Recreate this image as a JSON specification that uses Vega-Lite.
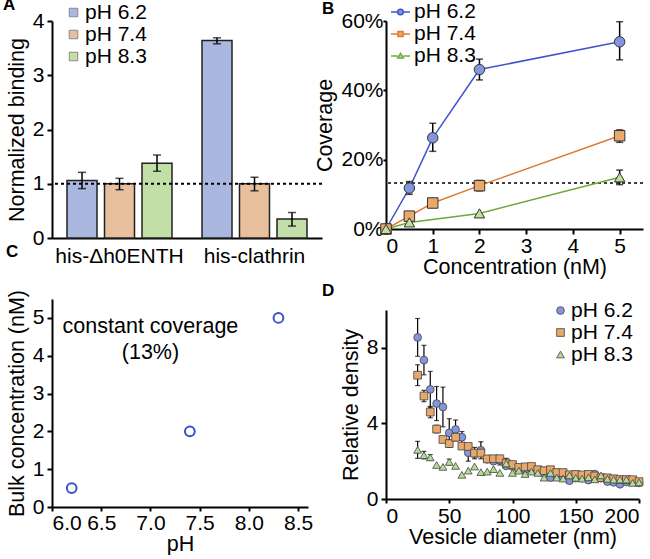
{
  "$schema": "https://vega.github.io/schema/vega-lite/v6.json",
  "padding": {"left": 3, "top": -4, "right": 0, "bottom": 0},
  "config": {
    "font": "Liberation Sans",
    "view": {"stroke": null},
    "axis": {"labelFontSize": 21, "titleFontSize": 21.5, "labelColor": "#000", "titleColor": "#000", "domainColor": "#000", "domainWidth": 2, "tickColor": "#000", "tickWidth": 2, "tickSize": 5, "grid": false, "titleFontWeight": "normal", "labelPadding": 3, "titlePadding": 4},
    "legend": {"labelFontSize": 21, "labelColor": "#000", "rowPadding": 0, "padding": 0, "labelOffset": 3},
    "title": {"fontSize": 17, "fontWeight": "bold", "anchor": "start", "frame": "group", "color": "#000", "baseline": "alphabetic"}
  },
  "resolve": {"scale": {"fill": "independent", "stroke": "independent", "shape": "independent"}, "legend": {"fill": "independent", "stroke": "independent", "shape": "independent"}},
  "hconcat": [
    {
      "resolve": {"scale": {"fill": "independent", "stroke": "independent", "shape": "independent"}, "legend": {"fill": "independent", "stroke": "independent", "shape": "independent"}},
      "vconcat": [
        {
          "width": 270, "height": 217,
          "title": {"text": "A", "dx": -49, "offset": -12},
          "data": {"values": [
            {"protein": "his-Δh0ENTH", "pH": "pH 6.2", "value": 1.06, "lo": 0.91, "hi": 1.21},
            {"protein": "his-Δh0ENTH", "pH": "pH 7.4", "value": 1.0, "lo": 0.89, "hi": 1.10},
            {"protein": "his-Δh0ENTH", "pH": "pH 8.3", "value": 1.38, "lo": 1.23, "hi": 1.53},
            {"protein": "his-clathrin", "pH": "pH 6.2", "value": 3.64, "lo": 3.58, "hi": 3.69},
            {"protein": "his-clathrin", "pH": "pH 7.4", "value": 1.0, "lo": 0.87, "hi": 1.12},
            {"protein": "his-clathrin", "pH": "pH 8.3", "value": 0.35, "lo": 0.22, "hi": 0.47}
          ]},
          "encoding": {
            "x": {"field": "protein", "type": "nominal", "sort": ["his-Δh0ENTH", "his-clathrin"], "scale": {"paddingInner": 0, "paddingOuter": 0},
                  "axis": {"title": null, "ticks": false, "labelAngle": 0, "labelPadding": 7}},
            "xOffset": {"field": "pH", "type": "nominal", "scale": {"paddingInner": 0.2, "paddingOuter": 0.4}}
          },
          "layer": [
            {"mark": {"type": "bar", "stroke": "#222", "strokeWidth": 1.5},
             "encoding": {
               "y": {"field": "value", "type": "quantitative", "scale": {"domain": [0, 4]}, "axis": {"title": "Normalized binding", "values": [0, 1, 2, 3, 4], "format": "d"}},
               "fill": {"field": "pH", "type": "nominal", "scale": {"range": ["#aab8e0", "#e8c09e", "#c3dfa8"]},
                        "legend": {"title": null, "orient": "none", "legendX": 11, "legendY": -19, "symbolType": "square", "symbolSize": 72, "symbolStrokeColor": "#888", "symbolStrokeWidth": 1, "labelOffset": 1}}
             }},
            {"mark": {"type": "rule", "color": "#000", "strokeWidth": 1.5},
             "encoding": {"y": {"field": "lo", "type": "quantitative"}, "y2": {"field": "hi"}}},
            {"mark": {"type": "tick", "orient": "horizontal", "color": "#000", "size": 8, "thickness": 1.5},
             "encoding": {"y": {"field": "lo", "type": "quantitative"}}},
            {"mark": {"type": "tick", "orient": "horizontal", "color": "#000", "size": 8, "thickness": 1.5},
             "encoding": {"y": {"field": "hi", "type": "quantitative"}}},
            {"data": {"values": [{"ref": 1}]},
             "mark": {"type": "rule", "color": "#000", "strokeWidth": 2, "strokeDash": [3, 3]},
             "encoding": {"x": null, "xOffset": null, "y": {"field": "ref", "type": "quantitative"}}}
          ]
        },
        {
          "width": 256, "height": 208,
          "title": {"text": "C", "dx": -46, "offset": 28},
          "layer": [
            {"data": {"values": [
              {"pH": 6.2, "conc": 0.5},
              {"pH": 7.4, "conc": 2.0},
              {"pH": 8.3, "conc": 5.0}
            ]},
             "mark": {"type": "point", "filled": false, "stroke": "#3a4fc8", "strokeWidth": 2, "size": 95, "opacity": 1},
             "encoding": {
               "x": {"field": "pH", "type": "quantitative", "scale": {"domain": [6.0, 8.5]}, "axis": {"title": "pH", "values": [6.0, 6.5, 7.0, 7.5, 8.0, 8.5], "format": ".1f", "tickSize": 4, "labelPadding": 1, "titlePadding": 0}},
               "y": {"field": "conc", "type": "quantitative", "scale": {"domain": [0, 5.25]}, "axis": {"title": "Bulk concentration (nM)", "values": [0, 1, 2, 3, 4, 5], "format": "d"}}
             }},
            {"data": {"values": [
              {"x": 7.0, "y": 4.76, "t": "constant coverage"},
              {"x": 7.0, "y": 4.08, "t": "(13%)"}
            ]},
             "mark": {"type": "text", "fontSize": 21.5, "color": "#000", "baseline": "middle", "align": "center"},
             "encoding": {
               "x": {"field": "x", "type": "quantitative"},
               "y": {"field": "y", "type": "quantitative"},
               "text": {"field": "t"}
             }}
          ]
        }
      ],
      "spacing": 61,
      "bounds": "flush"
    },
    {
      "resolve": {"scale": {"fill": "independent", "stroke": "independent", "shape": "independent"}, "legend": {"fill": "independent", "stroke": "independent", "shape": "independent"}},
      "vconcat": [
        {
          "width": 257, "height": 208,
          "title": {"text": "B", "dx": -64, "offset": -16.5},
          "data": {"values": [
            {"pH": "pH 6.2", "conc": 0, "cov": 0},
            {"pH": "pH 6.2", "conc": 0.5, "cov": 0.118, "lo": 0.100, "hi": 0.137},
            {"pH": "pH 6.2", "conc": 1, "cov": 0.263, "lo": 0.224, "hi": 0.305},
            {"pH": "pH 6.2", "conc": 2, "cov": 0.46, "lo": 0.43, "hi": 0.49},
            {"pH": "pH 6.2", "conc": 5, "cov": 0.54, "lo": 0.488, "hi": 0.598},
            {"pH": "pH 7.4", "conc": 0, "cov": 0},
            {"pH": "pH 7.4", "conc": 0.5, "cov": 0.037},
            {"pH": "pH 7.4", "conc": 1, "cov": 0.075},
            {"pH": "pH 7.4", "conc": 2, "cov": 0.125, "lo": 0.11, "hi": 0.14},
            {"pH": "pH 7.4", "conc": 5, "cov": 0.269, "lo": 0.25, "hi": 0.286},
            {"pH": "pH 8.3", "conc": 0, "cov": 0},
            {"pH": "pH 8.3", "conc": 0.5, "cov": 0.019},
            {"pH": "pH 8.3", "conc": 2, "cov": 0.045},
            {"pH": "pH 8.3", "conc": 5, "cov": 0.149, "lo": 0.128, "hi": 0.17}
          ]},
          "encoding": {
            "x": {"field": "conc", "type": "quantitative", "scale": {"domain": [0, 5.5]}, "axis": {"title": "Concentration (nM)", "values": [0, 1, 2, 3, 4, 5], "labelPadding": 1, "titlePadding": 0}}
          },
          "layer": [
            {"data": {"values": [{"ref": 0.133}]},
             "mark": {"type": "rule", "color": "#000", "strokeWidth": 1.5, "strokeDash": [3, 3]},
             "encoding": {"x": null, "y": {"field": "ref", "type": "quantitative"}}},
            {"mark": {"type": "line", "strokeWidth": 1.5},
             "encoding": {
               "y": {"field": "cov", "type": "quantitative", "scale": {"domain": [0, 0.6]}, "axis": {"title": "Coverage", "values": [0, 0.1, 0.2, 0.3, 0.4, 0.5, 0.6], "format": ".0%", "tickSize": 3, "labelPadding": 0}},
               "stroke": {"field": "pH", "type": "nominal", "scale": {"range": ["#4055cc", "#e07a30", "#6aaa3a"]},
                          "legend": {"title": null, "orient": "none", "legendX": 4, "legendY": -19.5, "symbolSize": 361, "symbolStrokeWidth": 1.5,
                                     "encode": {"symbols": {"update": {
                                       "shape": {"signal": "datum.value === 'pH 6.2' ? 'M-1,0L-0.3,0M0.3,0L1,0M0.3,0A0.3,0.3,0,1,1,-0.3,0A0.3,0.3,0,1,1,0.3,0Z' : datum.value === 'pH 7.4' ? 'M-1,0L-0.28,0M0.28,0L1,0M-0.27,-0.27L0.27,-0.27L0.27,0.27L-0.27,0.27Z' : 'M-1,0L-0.3,0M0.3,0L1,0M0,-0.28L0.3,0.22L-0.3,0.22Z'"},
                                       "fill": {"signal": "datum.value === 'pH 6.2' ? '#8395dd' : datum.value === 'pH 7.4' ? '#eaa86a' : '#bde09a'"},
                                       "fillOpacity": {"value": 1}}}}}}
             }},
            {"mark": {"type": "rule", "color": "#000", "strokeWidth": 1.5},
             "encoding": {"y": {"field": "lo", "type": "quantitative"}, "y2": {"field": "hi"}}},
            {"mark": {"type": "tick", "orient": "horizontal", "color": "#000", "size": 7, "thickness": 1.5},
             "encoding": {"y": {"field": "lo", "type": "quantitative"}}},
            {"mark": {"type": "tick", "orient": "horizontal", "color": "#000", "size": 7, "thickness": 1.5},
             "encoding": {"y": {"field": "hi", "type": "quantitative"}}},
            {"mark": {"type": "point", "filled": true, "opacity": 1, "stroke": "#333", "strokeWidth": 1, "size": 110},
             "encoding": {
               "y": {"field": "cov", "type": "quantitative"},
               "fill": {"field": "pH", "type": "nominal", "scale": {"range": ["#8395dd", "#eaa86a", "#bde09a"]}, "legend": null},
               "shape": {"field": "pH", "type": "nominal", "scale": {"range": ["circle", "square", "triangle-up"]}, "legend": null}
             }}
          ]
        },
        {
          "width": 253, "height": 189,
          "title": {"text": "D", "dx": -64, "offset": 0.5},
          "data": {"values": [
            {"pH": "pH 6.2", "d": 25, "v": 8.55, "lo": 7.55, "hi": 9.55},
            {"pH": "pH 6.2", "d": 30, "v": 7.35, "lo": 6.57, "hi": 8.13},
            {"pH": "pH 6.2", "d": 35, "v": 5.8, "lo": 4.85, "hi": 6.75},
            {"pH": "pH 6.2", "d": 40, "v": 5.05, "lo": 4.15, "hi": 5.95},
            {"pH": "pH 6.2", "d": 45, "v": 4.87, "lo": 3.82, "hi": 5.92},
            {"pH": "pH 6.2", "d": 50, "v": 3.5, "lo": 2.75, "hi": 4.25},
            {"pH": "pH 6.2", "d": 55, "v": 3.68, "lo": 3.18, "hi": 4.18},
            {"pH": "pH 6.2", "d": 60, "v": 3.27, "lo": 2.97, "hi": 3.57},
            {"pH": "pH 6.2", "d": 65, "v": 2.45, "lo": 2.0, "hi": 2.9},
            {"pH": "pH 6.2", "d": 70, "v": 2.4},
            {"pH": "pH 6.2", "d": 75, "v": 2.58, "lo": 2.13, "hi": 3.03},
            {"pH": "pH 6.2", "d": 80, "v": 2.1},
            {"pH": "pH 6.2", "d": 85, "v": 2.0},
            {"pH": "pH 6.2", "d": 90, "v": 2.05, "lo": 1.8, "hi": 2.3},
            {"pH": "pH 6.2", "d": 95, "v": 1.75},
            {"pH": "pH 6.2", "d": 100, "v": 1.72},
            {"pH": "pH 6.2", "d": 105, "v": 1.55},
            {"pH": "pH 6.2", "d": 110, "v": 1.55},
            {"pH": "pH 6.2", "d": 115, "v": 1.62, "lo": 1.47, "hi": 1.77},
            {"pH": "pH 6.2", "d": 120, "v": 1.45},
            {"pH": "pH 6.2", "d": 125, "v": 1.35},
            {"pH": "pH 6.2", "d": 130, "v": 1.13},
            {"pH": "pH 6.2", "d": 135, "v": 1.2},
            {"pH": "pH 6.2", "d": 140, "v": 1.15},
            {"pH": "pH 6.2", "d": 145, "v": 0.97},
            {"pH": "pH 6.2", "d": 150, "v": 1.1},
            {"pH": "pH 6.2", "d": 155, "v": 1.1},
            {"pH": "pH 6.2", "d": 160, "v": 1.0},
            {"pH": "pH 6.2", "d": 165, "v": 1.32},
            {"pH": "pH 6.2", "d": 170, "v": 1.1},
            {"pH": "pH 6.2", "d": 175, "v": 0.92},
            {"pH": "pH 6.2", "d": 180, "v": 0.88},
            {"pH": "pH 6.2", "d": 185, "v": 0.78},
            {"pH": "pH 6.2", "d": 190, "v": 0.9},
            {"pH": "pH 6.2", "d": 195, "v": 0.92},
            {"pH": "pH 6.2", "d": 200, "v": 0.85},
            {"pH": "pH 7.4", "d": 25, "v": 6.55, "lo": 6.0, "hi": 7.1},
            {"pH": "pH 7.4", "d": 30, "v": 5.45, "lo": 5.15, "hi": 5.75},
            {"pH": "pH 7.4", "d": 35, "v": 4.6, "lo": 4.3, "hi": 4.9},
            {"pH": "pH 7.4", "d": 40, "v": 3.7, "lo": 3.5, "hi": 3.9},
            {"pH": "pH 7.4", "d": 45, "v": 3.15},
            {"pH": "pH 7.4", "d": 50, "v": 2.93, "lo": 2.73, "hi": 3.13},
            {"pH": "pH 7.4", "d": 55, "v": 3.27, "lo": 3.07, "hi": 3.47},
            {"pH": "pH 7.4", "d": 60, "v": 2.8},
            {"pH": "pH 7.4", "d": 65, "v": 2.78},
            {"pH": "pH 7.4", "d": 70, "v": 2.43, "lo": 2.13, "hi": 2.73},
            {"pH": "pH 7.4", "d": 75, "v": 2.43},
            {"pH": "pH 7.4", "d": 80, "v": 2.12},
            {"pH": "pH 7.4", "d": 85, "v": 2.13},
            {"pH": "pH 7.4", "d": 90, "v": 2.13},
            {"pH": "pH 7.4", "d": 95, "v": 1.9, "lo": 1.65, "hi": 2.15},
            {"pH": "pH 7.4", "d": 100, "v": 1.82},
            {"pH": "pH 7.4", "d": 105, "v": 1.67},
            {"pH": "pH 7.4", "d": 110, "v": 1.7},
            {"pH": "pH 7.4", "d": 115, "v": 1.72},
            {"pH": "pH 7.4", "d": 120, "v": 1.55},
            {"pH": "pH 7.4", "d": 125, "v": 1.5},
            {"pH": "pH 7.4", "d": 130, "v": 1.55},
            {"pH": "pH 7.4", "d": 135, "v": 1.4},
            {"pH": "pH 7.4", "d": 140, "v": 1.4},
            {"pH": "pH 7.4", "d": 145, "v": 1.28},
            {"pH": "pH 7.4", "d": 150, "v": 1.3},
            {"pH": "pH 7.4", "d": 155, "v": 1.27},
            {"pH": "pH 7.4", "d": 160, "v": 1.3},
            {"pH": "pH 7.4", "d": 165, "v": 1.22},
            {"pH": "pH 7.4", "d": 170, "v": 1.13},
            {"pH": "pH 7.4", "d": 175, "v": 1.12},
            {"pH": "pH 7.4", "d": 180, "v": 1.07},
            {"pH": "pH 7.4", "d": 185, "v": 1.03},
            {"pH": "pH 7.4", "d": 190, "v": 1.03},
            {"pH": "pH 7.4", "d": 195, "v": 1.02},
            {"pH": "pH 7.4", "d": 200, "v": 0.92},
            {"pH": "pH 8.3", "d": 25, "v": 2.6, "lo": 2.15, "hi": 3.05},
            {"pH": "pH 8.3", "d": 30, "v": 2.32, "lo": 2.12, "hi": 2.52},
            {"pH": "pH 8.3", "d": 35, "v": 2.2, "lo": 2.05, "hi": 2.35},
            {"pH": "pH 8.3", "d": 40, "v": 1.8},
            {"pH": "pH 8.3", "d": 45, "v": 1.7},
            {"pH": "pH 8.3", "d": 50, "v": 1.96, "lo": 1.81, "hi": 2.11},
            {"pH": "pH 8.3", "d": 55, "v": 1.75},
            {"pH": "pH 8.3", "d": 60, "v": 1.28},
            {"pH": "pH 8.3", "d": 65, "v": 1.5},
            {"pH": "pH 8.3", "d": 70, "v": 1.72},
            {"pH": "pH 8.3", "d": 75, "v": 1.42},
            {"pH": "pH 8.3", "d": 80, "v": 1.45},
            {"pH": "pH 8.3", "d": 85, "v": 1.58},
            {"pH": "pH 8.3", "d": 90, "v": 1.38},
            {"pH": "pH 8.3", "d": 95, "v": 1.88},
            {"pH": "pH 8.3", "d": 100, "v": 1.38},
            {"pH": "pH 8.3", "d": 105, "v": 1.5},
            {"pH": "pH 8.3", "d": 110, "v": 1.32},
            {"pH": "pH 8.3", "d": 115, "v": 1.45},
            {"pH": "pH 8.3", "d": 120, "v": 1.38},
            {"pH": "pH 8.3", "d": 125, "v": 1.13},
            {"pH": "pH 8.3", "d": 130, "v": 1.38},
            {"pH": "pH 8.3", "d": 135, "v": 1.13},
            {"pH": "pH 8.3", "d": 140, "v": 1.08},
            {"pH": "pH 8.3", "d": 145, "v": 1.25},
            {"pH": "pH 8.3", "d": 150, "v": 1.12},
            {"pH": "pH 8.3", "d": 155, "v": 1.08},
            {"pH": "pH 8.3", "d": 160, "v": 1.15},
            {"pH": "pH 8.3", "d": 165, "v": 1.04},
            {"pH": "pH 8.3", "d": 170, "v": 1.25},
            {"pH": "pH 8.3", "d": 175, "v": 1.07},
            {"pH": "pH 8.3", "d": 180, "v": 1.03},
            {"pH": "pH 8.3", "d": 185, "v": 1.03},
            {"pH": "pH 8.3", "d": 190, "v": 1.03},
            {"pH": "pH 8.3", "d": 195, "v": 0.85},
            {"pH": "pH 8.3", "d": 200, "v": 0.88}
          ]},
          "encoding": {
            "x": {"field": "d", "type": "quantitative", "scale": {"domain": [0, 200]}, "axis": {"title": "Vesicle diameter (nm)", "values": [0, 50, 100, 150, 200], "tickSize": 4, "labelPadding": 2, "titlePadding": 0}}
          },
          "layer": [
            {"mark": {"type": "rule", "color": "#000", "strokeWidth": 1.2},
             "encoding": {"y": {"field": "lo", "type": "quantitative"}, "y2": {"field": "hi"}}},
            {"mark": {"type": "tick", "orient": "horizontal", "color": "#000", "size": 5, "thickness": 1.2},
             "encoding": {"y": {"field": "hi", "type": "quantitative"}}},
            {"mark": {"type": "tick", "orient": "horizontal", "color": "#000", "size": 5, "thickness": 1.2},
             "encoding": {"y": {"field": "lo", "type": "quantitative"}}},
            {"mark": {"type": "point", "filled": true, "opacity": 1, "stroke": "#444", "strokeWidth": 0.8, "size": 60},
             "encoding": {
               "y": {"field": "v", "type": "quantitative", "scale": {"domain": [0, 10]}, "axis": {"title": "Relative density", "values": [0, 1, 2, 3, 4, 5, 6, 7, 8, 9, 10], "labelExpr": "datum.value % 2 === 0 ? datum.label : ''"}},
               "fill": {"field": "pH", "type": "nominal", "scale": {"range": ["#8395dd", "#e8a86a", "#b5dc95"]},
                        "legend": {"title": null, "orient": "none", "legendX": 164, "legendY": -10, "symbolSize": 60, "symbolStrokeColor": "#444", "symbolStrokeWidth": 0.8, "labelOffset": 0}},
               "shape": {"field": "pH", "type": "nominal", "scale": {"range": ["circle", "square", "triangle-up"]}}
             }}
          ]
        }
      ],
      "spacing": 81,
      "bounds": "flush"
    }
  ],
  "spacing": -9
}
